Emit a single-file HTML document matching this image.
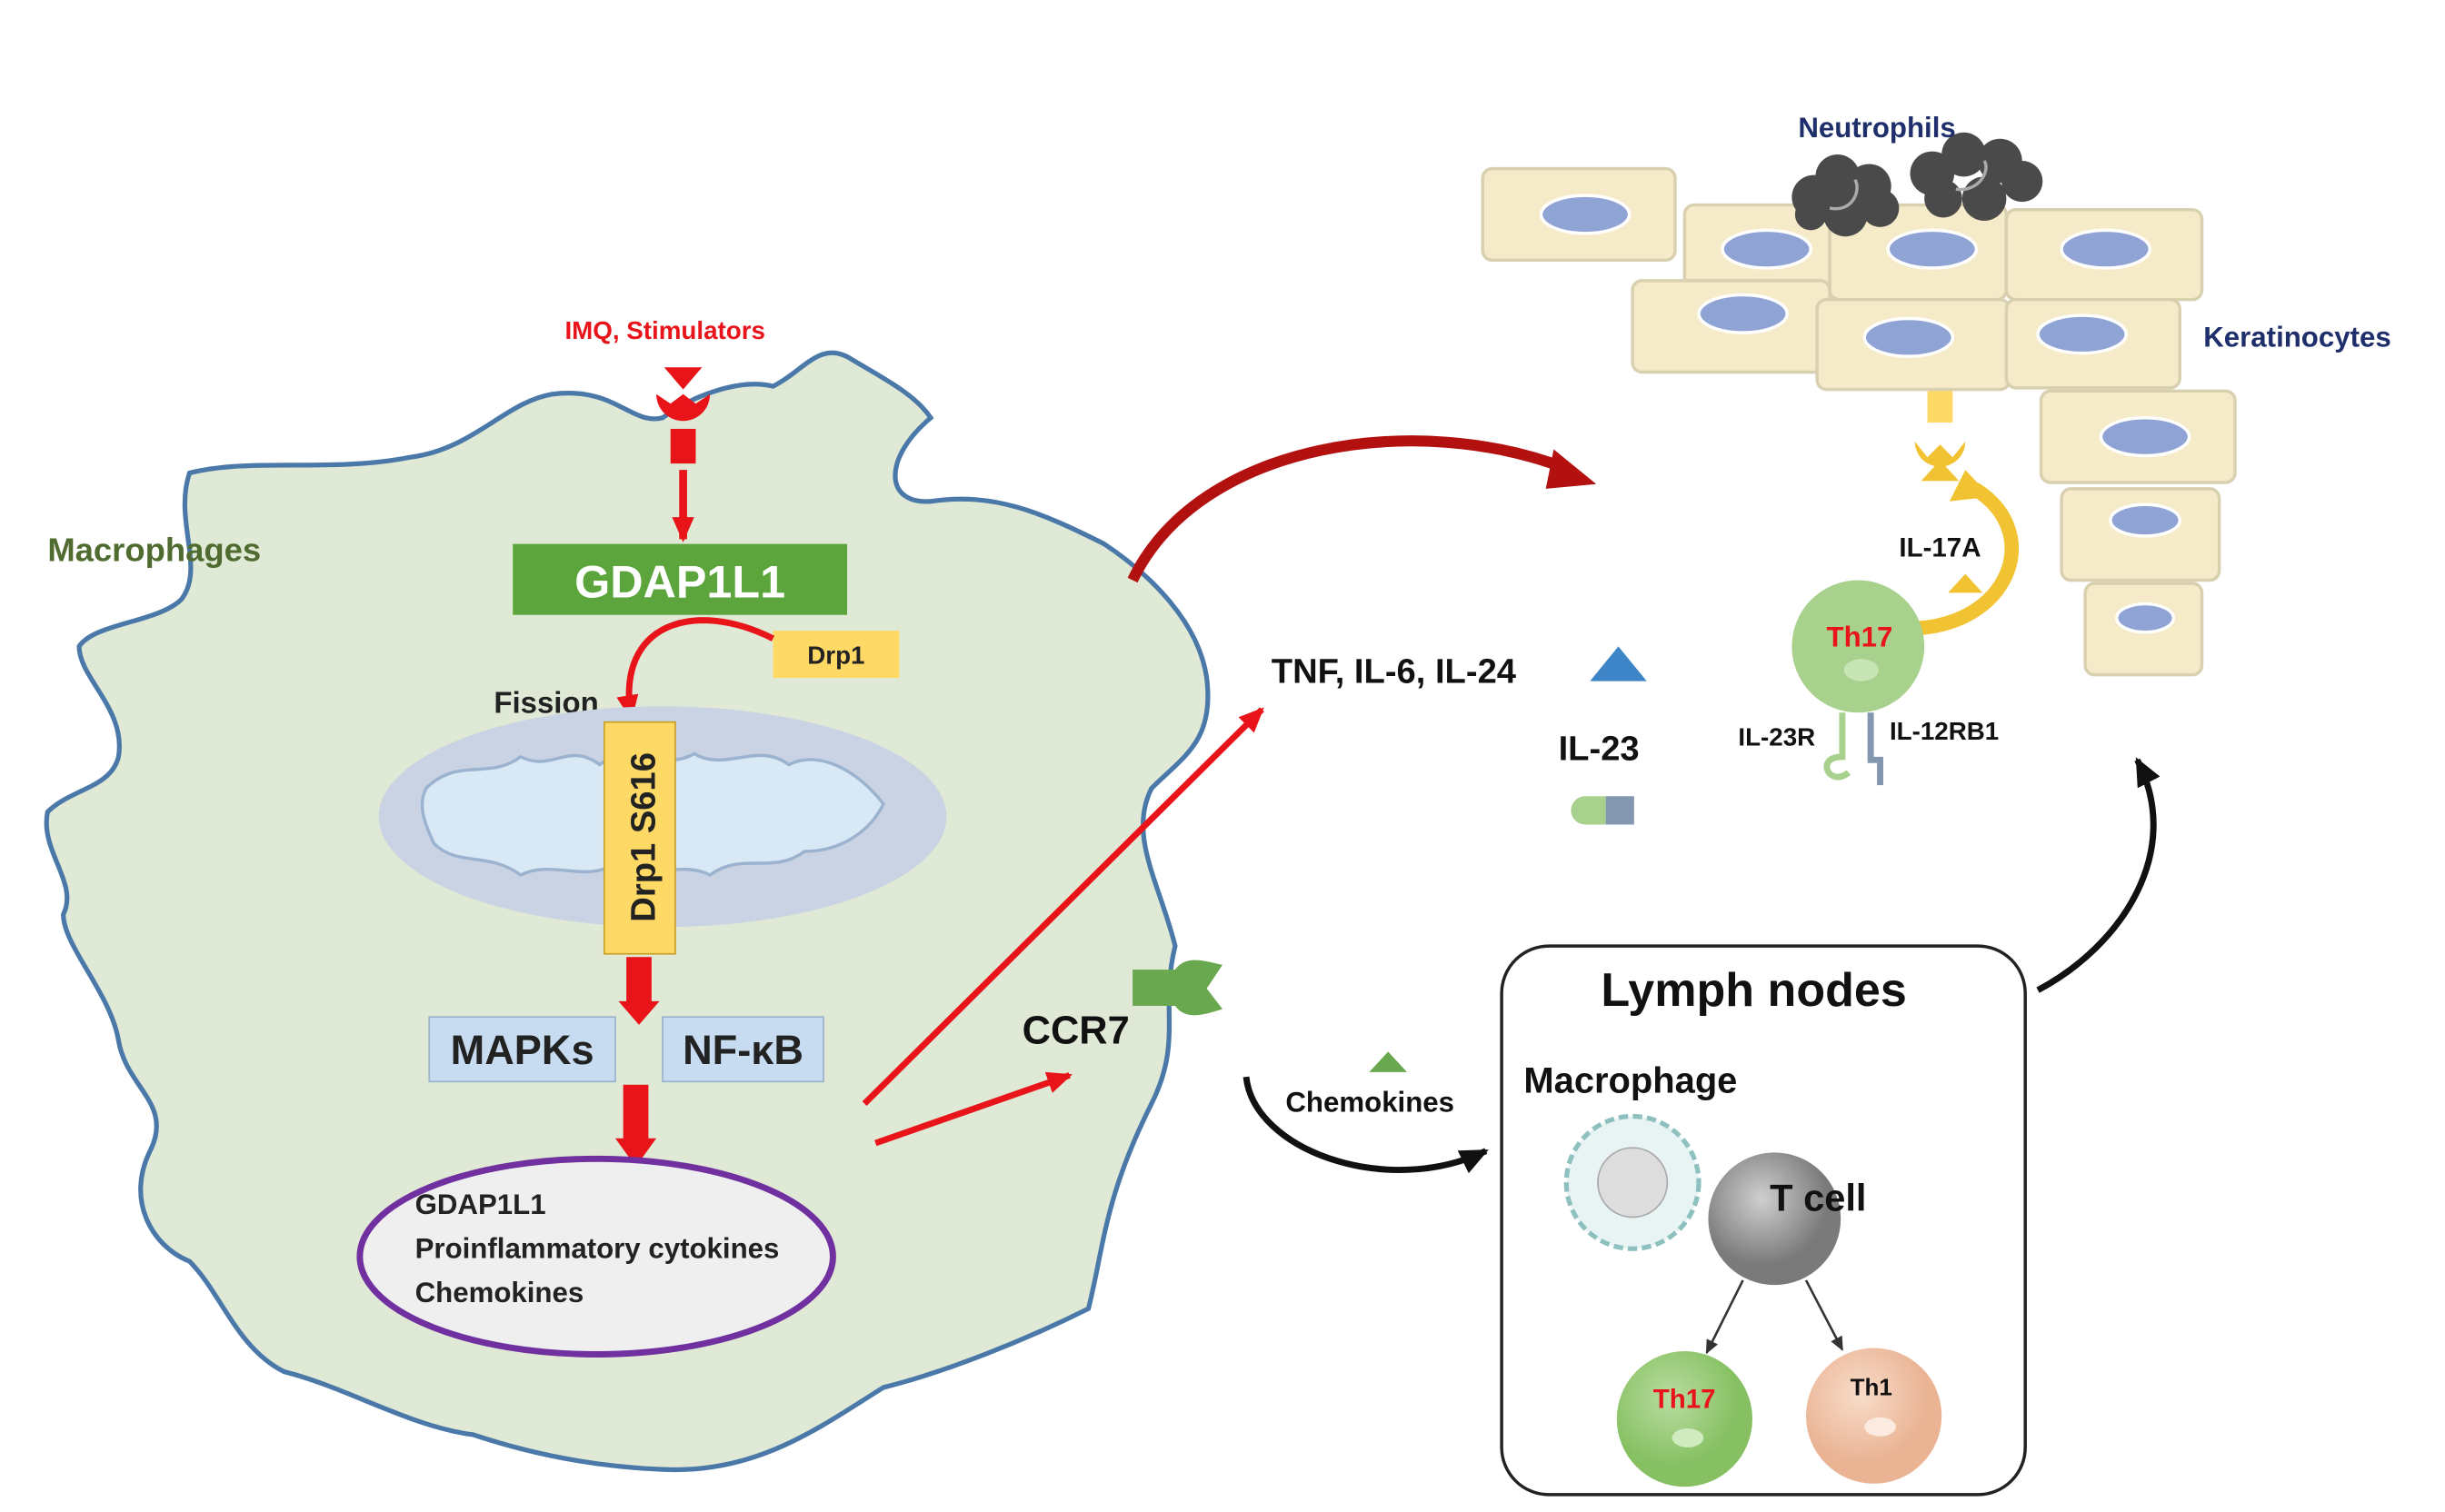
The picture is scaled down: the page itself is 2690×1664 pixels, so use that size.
<!DOCTYPE html>
<html><head><meta charset="utf-8"><style>
html,body{margin:0;padding:0;background:#fff;width:2690px;height:1664px;overflow:hidden}
svg{display:block}
text{font-family:"Liberation Sans",sans-serif;font-weight:bold}
</style></head><body>
<svg width="2690" height="1664" viewBox="0 0 1550 959" xmlns="http://www.w3.org/2000/svg">
<defs>
<marker id="ra" markerUnits="userSpaceOnUse" markerWidth="16" markerHeight="14" refX="14" refY="7" orient="auto"><path d="M0,0 L16,7 L0,14 z" fill="#e8141a"/></marker>
<marker id="ka" markerUnits="userSpaceOnUse" markerWidth="18" markerHeight="16" refX="16" refY="8" orient="auto"><path d="M0,0 L18,8 L0,16 z" fill="#111"/></marker>
<marker id="ta" markerUnits="userSpaceOnUse" markerWidth="9" markerHeight="8" refX="8" refY="4" orient="auto"><path d="M0,0 L9,4 L0,8 z" fill="#333"/></marker>
<radialGradient id="gg" cx="0.4" cy="0.35"><stop offset="0" stop-color="#b8dca0"/><stop offset="1" stop-color="#86c062"/></radialGradient>
<radialGradient id="gr" cx="0.4" cy="0.35"><stop offset="0" stop-color="#cfcfcf"/><stop offset="1" stop-color="#7a7a7a"/></radialGradient>
<radialGradient id="go" cx="0.4" cy="0.35"><stop offset="0" stop-color="#f8dcc8"/><stop offset="1" stop-color="#eab394"/></radialGradient>
</defs>
<path d="M120,300 C160,290 210,300 260,290 C300,285 320,255 350,250 C390,245 400,270 420,265 C440,250 470,240 490,245 C510,235 520,215 540,228 C560,240 580,250 590,265 C560,290 560,320 590,318 C630,312 660,325 700,345 C730,365 760,395 765,430 C770,470 750,480 730,500 C715,530 735,560 745,600 C735,640 750,660 730,700 C700,760 700,790 690,830 C650,850 600,870 560,880 C520,905 480,935 420,932 C370,930 330,920 300,910 C260,905 220,880 180,870 C150,855 140,820 120,800 C95,790 80,760 95,730 C110,700 80,690 75,660 C70,630 40,600 40,580 C50,560 25,540 30,515 C45,500 70,500 75,480 C80,450 50,430 50,410 C60,395 100,395 115,380 C130,360 110,330 120,300 Z" fill="#dfe9d5" stroke="#4a78a8" stroke-width="3"/>
<text x="30" y="356" font-size="21" fill="#4f6b2f">Macrophages</text>
<text x="358" y="215" font-size="16" fill="#e8141a">IMQ, Stimulators</text>
<path d="M421,233 L445,233 L433,247 Z" fill="#e8141a"/>
<path d="M416,250 A17,17 0 1,0 450,250 L441,256 L433,250 L425,256 Z" fill="#e8141a"/>
<rect x="425" y="272" width="16" height="22" fill="#e8141a"/>
<line x1="433" y1="298" x2="433" y2="342" stroke="#e8141a" stroke-width="5" marker-end="url(#ra)"/>
<rect x="325" y="345" width="212" height="45" fill="#5ca53c"/>
<text x="431" y="379" font-size="29" fill="#fff" text-anchor="middle">GDAP1L1</text>
<rect x="490" y="400" width="80" height="30" fill="#ffd966"/>
<text x="530" y="421" font-size="16" fill="#222" text-anchor="middle">Drp1</text>
<path d="M490,405 C440,380 390,395 400,455" fill="none" stroke="#e8141a" stroke-width="4" marker-end="url(#ra)"/>
<text x="313" y="452" font-size="19" fill="#222">Fission</text>
<ellipse cx="420" cy="518" rx="180" ry="70" fill="#c9d3e3"/>
<path d="M270,500 C290,480 310,495 330,480 C350,490 360,470 380,485 C400,470 420,490 440,478 C460,490 480,470 500,485 C520,475 545,490 560,510 C550,530 530,540 510,540 C490,555 470,540 450,555 C430,545 410,560 390,548 C370,560 350,545 330,555 C310,540 290,550 275,535 C268,520 265,510 270,500 Z" fill="#d8e8f5" stroke="#9bb3cf" stroke-width="2"/>
<rect x="383" y="458" width="45" height="147" fill="#ffd966" stroke="#c9a227"/>
<text transform="translate(415,531) rotate(-90)" font-size="22" fill="#222" text-anchor="middle">Drp1 S616</text>
<rect x="397" y="607" width="16" height="30" fill="#e8141a"/><path d="M392,635 L418,635 L405,650 Z" fill="#e8141a"/>
<rect x="272" y="645" width="118" height="41" fill="#c7dcf0" stroke="#9bb3cf"/>
<text x="331" y="675" font-size="26" fill="#222" text-anchor="middle">MAPKs</text>
<rect x="420" y="645" width="102" height="41" fill="#c7dcf0" stroke="#9bb3cf"/>
<text x="471" y="675" font-size="26" fill="#222" text-anchor="middle">NF-κB</text>
<rect x="395" y="688" width="16" height="36" fill="#e8141a"/><path d="M390,722 L416,722 L403,740 Z" fill="#e8141a"/>
<ellipse cx="378" cy="797" rx="150" ry="62" fill="#efefef" stroke="#7030a0" stroke-width="4"/>
<text x="263" y="770" font-size="18" fill="#222">GDAP1L1</text>
<text x="263" y="798" font-size="18" fill="#222">Proinflammatory cytokines</text>
<text x="263" y="826" font-size="18" fill="#222">Chemokines</text>
<line x1="548" y1="700" x2="800" y2="450" stroke="#e8141a" stroke-width="4" marker-end="url(#ra)"/>
<line x1="555" y1="725" x2="678" y2="682" stroke="#e8141a" stroke-width="4" marker-end="url(#ra)"/>
<text x="648" y="662" font-size="25" fill="#111">CCR7</text>
<path d="M718,615 L745,615 C752,605 765,610 775,612 L765,627 L775,640 C765,643 752,648 745,638 L718,638 Z" fill="#6aa84f"/>
<path d="M718,368 C760,280 900,260 995,298" fill="none" stroke="#b31010" stroke-width="7"/>
<path d="M985,285 L1012,307 L980,310 Z" fill="#b31010"/>
<text x="806" y="433" font-size="22" fill="#111">TNF, IL-6, IL-24</text>
<path d="M1008,432 L1026,410 L1044,432 Z" fill="#3d85c6"/>
<text x="988" y="482" font-size="22" fill="#111">IL-23</text>
<path d="M1018,505 L1005,505 A9,9 0 0,0 1005,523 L1018,523 Z" fill="#a9d18e"/><rect x="1018" y="505" width="18" height="18" fill="#8497b0"/>
<g fill="#f6ebc9" stroke="#d9d0b0" stroke-width="2">
<rect x="940" y="107" width="122" height="58" rx="6"/>
<rect x="1068" y="130" width="100" height="60" rx="6"/>
<rect x="1160" y="130" width="112" height="60" rx="6"/>
<rect x="1272" y="133" width="124" height="57" rx="6"/>
<rect x="1035" y="178" width="125" height="58" rx="6"/>
<rect x="1152" y="190" width="122" height="57" rx="6"/>
<rect x="1272" y="190" width="110" height="56" rx="6"/>
<rect x="1294" y="248" width="123" height="58" rx="6"/>
<rect x="1307" y="310" width="100" height="58" rx="6"/>
<rect x="1322" y="370" width="74" height="58" rx="6"/>
</g>
<g fill="#8fa4d4" stroke="#fff" stroke-width="2">
<ellipse cx="1005" cy="136" rx="28" ry="12"/><ellipse cx="1120" cy="158" rx="28" ry="12"/>
<ellipse cx="1225" cy="158" rx="28" ry="12"/><ellipse cx="1335" cy="158" rx="28" ry="12"/>
<ellipse cx="1105" cy="199" rx="28" ry="12"/><ellipse cx="1210" cy="214" rx="28" ry="12"/>
<ellipse cx="1320" cy="212" rx="28" ry="12"/><ellipse cx="1360" cy="277" rx="28" ry="12"/>
<ellipse cx="1360" cy="330" rx="22" ry="10"/><ellipse cx="1360" cy="392" rx="18" ry="9"/>
</g>
<g fill="#4a4a4a">
<circle cx="1150" cy="125" r="14"/><circle cx="1165" cy="112" r="14"/><circle cx="1185" cy="118" r="14"/><circle cx="1192" cy="132" r="12"/><circle cx="1170" cy="136" r="14"/><circle cx="1148" cy="136" r="10"/>
<circle cx="1225" cy="110" r="14"/><circle cx="1245" cy="98" r="14"/><circle cx="1268" cy="102" r="14"/><circle cx="1282" cy="115" r="13"/><circle cx="1258" cy="126" r="14"/><circle cx="1232" cy="126" r="12"/>
</g>
<g fill="none" stroke="#aaa" stroke-width="2"><path d="M1160,132 C1175,135 1180,120 1176,114"/><path d="M1240,120 C1255,122 1262,108 1258,102"/></g>
<text x="1140" y="87" font-size="18" fill="#1f2f6b">Neutrophils</text>
<text x="1397" y="220" font-size="18" fill="#1f2f6b">Keratinocytes</text>
<rect x="1222" y="248" width="16" height="20" fill="#ffd966"/>
<path d="M1214,280 A16,16 0 1,0 1246,280 L1238,290 L1230,282 L1222,290 Z" fill="#f1c232"/>
<path d="M1218,305 L1230,292 L1242,305 Z" fill="#f1c232"/>
<path d="M1200,398 C1270,405 1300,340 1252,310" fill="none" stroke="#f1c232" stroke-width="9"/>
<path d="M1236,318 L1246,298 L1262,315 Z" fill="#f1c232"/>
<text x="1204" y="353" font-size="17" fill="#111">IL-17A</text>
<path d="M1235,376 L1246,364 L1257,376 Z" fill="#f1c232"/>
<circle cx="1178" cy="410" r="42" fill="#a9d18e"/>
<text x="1158" y="410" font-size="18" fill="#e8141a">Th17</text>
<ellipse cx="1180" cy="425" rx="11" ry="7" fill="#c8e6b5"/>
<path d="M1168,452 L1168,480 C1150,480 1160,500 1172,490" fill="none" stroke="#a9d18e" stroke-width="4"/>
<path d="M1186,452 L1186,482 L1192,482 L1192,498" fill="none" stroke="#8497b0" stroke-width="4"/>
<text x="1102" y="473" font-size="16" fill="#111">IL-23R</text>
<text x="1198" y="469" font-size="16" fill="#111">IL-12RB1</text>
<path d="M1292,628 C1345,600 1385,540 1355,482" fill="none" stroke="#111" stroke-width="4" marker-end="url(#ka)"/>
<path d="M790,683 C795,730 880,760 942,730" fill="none" stroke="#111" stroke-width="4" marker-end="url(#ka)"/>
<path d="M868,680 L880,667 L892,680 Z" fill="#6aa84f"/>
<text x="815" y="705" font-size="18" fill="#111">Chemokines</text>
<rect x="952" y="600" width="332" height="348" rx="30" fill="#fff" stroke="#222" stroke-width="2"/>
<text x="1015" y="638" font-size="30" fill="#111">Lymph nodes</text>
<text x="966" y="693" font-size="23" fill="#111">Macrophage</text>
<circle cx="1035" cy="750" r="42" fill="#e8f4f4" stroke="#8fc0c0" stroke-width="3" stroke-dasharray="6 3"/>
<circle cx="1035" cy="750" r="22" fill="#ddd" stroke="#aaa"/>
<circle cx="1125" cy="773" r="42" fill="url(#gr)"/>
<text x="1122" y="768" font-size="24" fill="#111">T cell</text>
<line x1="1105" y1="812" x2="1082" y2="858" stroke="#333" stroke-width="1.5" marker-end="url(#ta)"/>
<line x1="1145" y1="812" x2="1168" y2="856" stroke="#333" stroke-width="1.5" marker-end="url(#ta)"/>
<circle cx="1068" cy="900" r="43" fill="url(#gg)"/>
<text x="1048" y="893" font-size="17" fill="#e8141a">Th17</text>
<ellipse cx="1070" cy="912" rx="10" ry="6" fill="#d0ebc0"/>
<circle cx="1188" cy="898" r="43" fill="url(#go)"/>
<text x="1173" y="885" font-size="15" fill="#111">Th1</text>
<ellipse cx="1192" cy="905" rx="10" ry="6" fill="#fbeadf"/>
</svg>
</body></html>
